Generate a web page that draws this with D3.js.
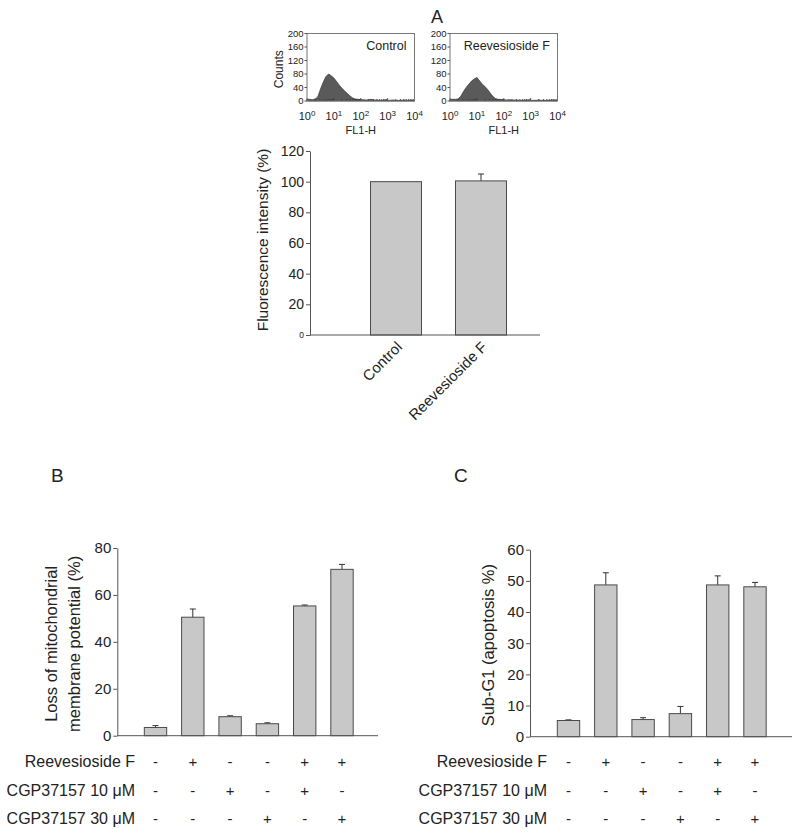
<!DOCTYPE html>
<html><head><meta charset="utf-8">
<script src="https://cdn.jsdelivr.net/npm/d3@7/dist/d3.min.js"></script>
<style>
body{margin:0;background:#fff;}
svg text{font-family:"Liberation Sans",Arial,Helvetica,sans-serif;fill:#222;}
</style></head>
<body><svg id="c" width="800" height="836"></svg>
<script>
// ---------- Data ----------
// Panel A histograms (counts per log10 bin 0.0 .. 4.0 step 0.1)
const histControl = [5,5,4,6,12,35,55,72,80,75,68,58,47,38,30,22,15,9,6,5,4,4,3,4,5,3,3,2,2,3,2,2,3,2,2,2,3,2,2,2,1];
const histReeves  = [5,5,5,6,14,28,40,50,59,65,70,60,50,43,34,23,13,7,5,4,4,3,4,3,3,3,2,2,3,2,2,2,2,3,2,2,2,2,3,2,2];
const histTitles = ["Control","Reevesioside F"];
const histYTicks = [0,40,80,120,160,200];
const histXExp = [0,1,2,3,4];

// Panel A bars
const catsA = ["Control","Reevesioside F"];
const valsA = [100, 100.5];
const errA  = [0, 4.5];
const ticksA = [0,20,40,60,80,100,120];

// Panel B
const valsB = [3.5, 50.5, 8.1, 5.1, 55.3, 70.9];
const errB  = [0.8, 3.5, 0.4, 0.4, 0.4, 2.1];
const ticksB = [0,20,40,60,80];

// Panel C
const valsC = [5.2, 48.7, 5.5, 7.4, 48.7, 48.1];
const errC  = [0.2, 3.9, 0.6, 2.3, 2.9, 1.4];
const ticksC = [0,10,20,30,40,50,60];

// Treatment table
const rowLabels = ["Reevesioside F","CGP37157 10 \u03bcM","CGP37157 30 \u03bcM"];
const rowSigns = [
  ["-","+","-","-","+","+"],
  ["-","-","+","-","+","-"],
  ["-","-","-","+","-","+"]
];

// ---------- Drawing ----------
const svg = d3.select("#c");
const barFill = "#c8c8c8", barStroke = "#4a4a4a";

// Panel label A
svg.append("text").attr("x",437).attr("y",23).attr("font-size",18).attr("text-anchor","middle").text("A");

// Histograms
const histFrames = [[307,414.5],[450,557.5]];
const hTop = 33.5, hBot = 101;
[histControl, histReeves].forEach((h, k) => {
  const [x0, x1] = histFrames[k];
  const g = svg.append("g");
  const xs = d3.scaleLog().domain([1, 1e4]).range([x0, x1]);
  const ys = d3.scaleLinear().domain([0,200]).range([hBot, hTop]);
  const pts = h.map((c,i) => [Math.pow(10, i/10), c]);
  const area = d3.area().x(d => xs(d[0])).y0(ys(0)).y1(d => ys(d[1]));
  g.append("path").datum(pts).attr("d", area).attr("fill","#5a5a5a").attr("stroke","#333").attr("stroke-width",0.7);
  const minor = [];
  for (let e=0;e<4;e++) for (let m=1;m<10;m++) minor.push(m*Math.pow(10,e));
  g.selectAll(".mt").data(minor).join("line")
    .attr("x1",d=>xs(d)).attr("x2",d=>xs(d)).attr("y1",hBot).attr("y2",d=>hBot-(Math.log10(d)%1===0?3:2))
    .attr("stroke","#333").attr("stroke-width",0.8);
  g.append("rect").attr("x",x0).attr("y",hTop).attr("width",x1-x0).attr("height",hBot-hTop)
    .attr("fill","none").attr("stroke","#777").attr("stroke-width",1);
  g.selectAll(".yt").data(histYTicks).join("line")
    .attr("x1",x0-2.5).attr("x2",x0).attr("y1",d=>ys(d)).attr("y2",d=>ys(d)).attr("stroke","#555");
  g.selectAll(".yl").data(histYTicks).join("text")
    .attr("x",x0-3.5).attr("y",d=>ys(d)).attr("dy","0.35em").attr("text-anchor","end")
    .attr("font-size",9.5).text(d=>d);
  histXExp.forEach(e => {
    const t = g.append("text").attr("x", xs(Math.pow(10,e))).attr("y",120).attr("text-anchor","middle").attr("font-size",11);
    t.append("tspan").text("10");
    t.append("tspan").attr("dy",-4).attr("font-size",8).text(e);
  });
  g.append("text").attr("x",(x0+x1)/2).attr("y",134).attr("text-anchor","middle").attr("font-size",11).text("FL1-H");
  if (k===0) {
    g.append("text").attr("x",x1-8).attr("y",50).attr("text-anchor","end").attr("font-size",12.5).text(histTitles[0]);
    g.append("text").attr("transform",`translate(283,${(hTop+hBot)/2+2}) rotate(-90)`).attr("text-anchor","middle").attr("font-size",12).text("Counts");
  } else {
    g.append("text").attr("x",(x0+x1)/2+3).attr("y",50).attr("text-anchor","middle").attr("font-size",12.5).text(histTitles[1]);
  }
});

function drawBars(g, xs, ys, vals, errs) {
  const bw = xs.bandwidth();
  g.selectAll(".err").data(vals.map((v,i)=>({v,e:errs[i],i}))).join("g").each(function(d){
    const cx = xs(d.i) + bw/2;
    const gg = d3.select(this);
    if (d.e > 0) {
      gg.append("line").attr("x1",cx).attr("x2",cx).attr("y1",ys(d.v)).attr("y2",ys(d.v+d.e)).attr("stroke","#333").attr("stroke-width",1);
      gg.append("line").attr("x1",cx-3).attr("x2",cx+3).attr("y1",ys(d.v+d.e)).attr("y2",ys(d.v+d.e)).attr("stroke","#333").attr("stroke-width",1);
    }
  });
  g.selectAll(".bar").data(vals).join("rect")
    .attr("x",(d,i)=>xs(i)).attr("width",bw)
    .attr("y",d=>ys(d)).attr("height",d=>ys(0)-ys(d))
    .attr("fill",barFill).attr("stroke",barStroke).attr("stroke-width",1);
}
function drawYAxis(g, ys, ticks, x, fs, zeroFs) {
  const ax = d3.axisLeft(ys).tickValues(ticks).tickSize(4).tickSizeOuter(0);
  const a = g.append("g").attr("transform",`translate(${x},0)`).call(ax);
  a.select(".domain").attr("stroke","#555");
  a.selectAll(".tick line").attr("stroke","#555");
  a.selectAll(".tick text").attr("font-size",d=> (d===0 && zeroFs)? zeroFs : fs).attr("fill","#222")
    .attr("font-family","Liberation Sans, Arial, sans-serif").attr("x",-6);
}

// Panel A bar chart
{
  const g = svg.append("g");
  const ys = d3.scaleLinear().domain([0,120]).range([335,151]);
  const xs = d3.scaleBand().domain(d3.range(catsA.length)).range([353.5,523.5]).paddingInner(0.4).paddingOuter(0.2);
  drawBars(g, xs, ys, valsA, errA);
  drawYAxis(g, ys, ticksA, 310, 14, 8.5);
  g.append("line").attr("x1",310).attr("x2",540).attr("y1",ys(0)).attr("y2",ys(0)).attr("stroke","#555");
  g.append("text").attr("transform",`translate(268,${(151+335)/2-3}) rotate(-90)`).attr("text-anchor","middle").attr("font-size",15.5).text("Fluorescence intensity (%)");
  catsA.forEach((c,i)=>{
    const cx = xs(i)+xs.bandwidth()/2;
    g.append("text").attr("transform",`translate(${cx+7},${348}) rotate(-45)`).attr("text-anchor","end").attr("font-size",15).text(c);
  });
}

function drawPanel(opts) {
  const g = svg.append("g");
  const ys = d3.scaleLinear().domain([0, opts.max]).range([opts.y0, opts.y1]);
  const step = 37.3;
  const r0 = opts.firstCenter - step/2;
  const xs = d3.scaleBand().domain(d3.range(6)).range([r0, r0+6*step]).paddingInner(0.4).paddingOuter(0.2);
  drawBars(g, xs, ys, opts.vals, opts.errs);
  drawYAxis(g, ys, opts.ticks, opts.axisX, 15, null);
  g.append("line").attr("x1",opts.axisX).attr("x2",opts.axisEnd).attr("y1",ys(0)).attr("y2",ys(0)).attr("stroke","#555");
  g.append("text").attr("x",opts.letterX).attr("y",482).attr("font-size",19).text(opts.letter);
  opts.ylabel.forEach((l,i)=>{
    g.append("text").attr("transform",`translate(${opts.ylabelX[i]},${(opts.y0+opts.y1)/2+2}) rotate(-90)`).attr("text-anchor","middle").attr("font-size",16.5).text(l);
  });
  const rowY = [767, 795.5, 824];
  rowLabels.forEach((l,r)=>{
    g.append("text").attr("x",opts.tableX).attr("y",rowY[r]).attr("text-anchor","end").attr("font-size",16).text(l);
    rowSigns[r].forEach((s,i)=>{
      g.append("text").attr("x",xs(i)+xs.bandwidth()/2).attr("y",rowY[r]).attr("text-anchor","middle").attr("font-size",15).text(s);
    });
  });
}
drawPanel({max:80, y0:735.7, y1:548, firstCenter:155.5, axisX:117.3, axisEnd:378, vals:valsB, errs:errB, ticks:ticksB,
  letter:"B", letterX:51, ylabel:["Loss of mitochondrial","membrane potential (%)"], ylabelX:[57,80], tableX:135});
drawPanel({max:60, y0:736.7, y1:549.7, firstCenter:568.5, axisX:530, axisEnd:792, vals:valsC, errs:errC, ticks:ticksC,
  letter:"C", letterX:454, ylabel:["Sub-G1 (apoptosis %)"], ylabelX:[494], tableX:547});
</script></body></html>
